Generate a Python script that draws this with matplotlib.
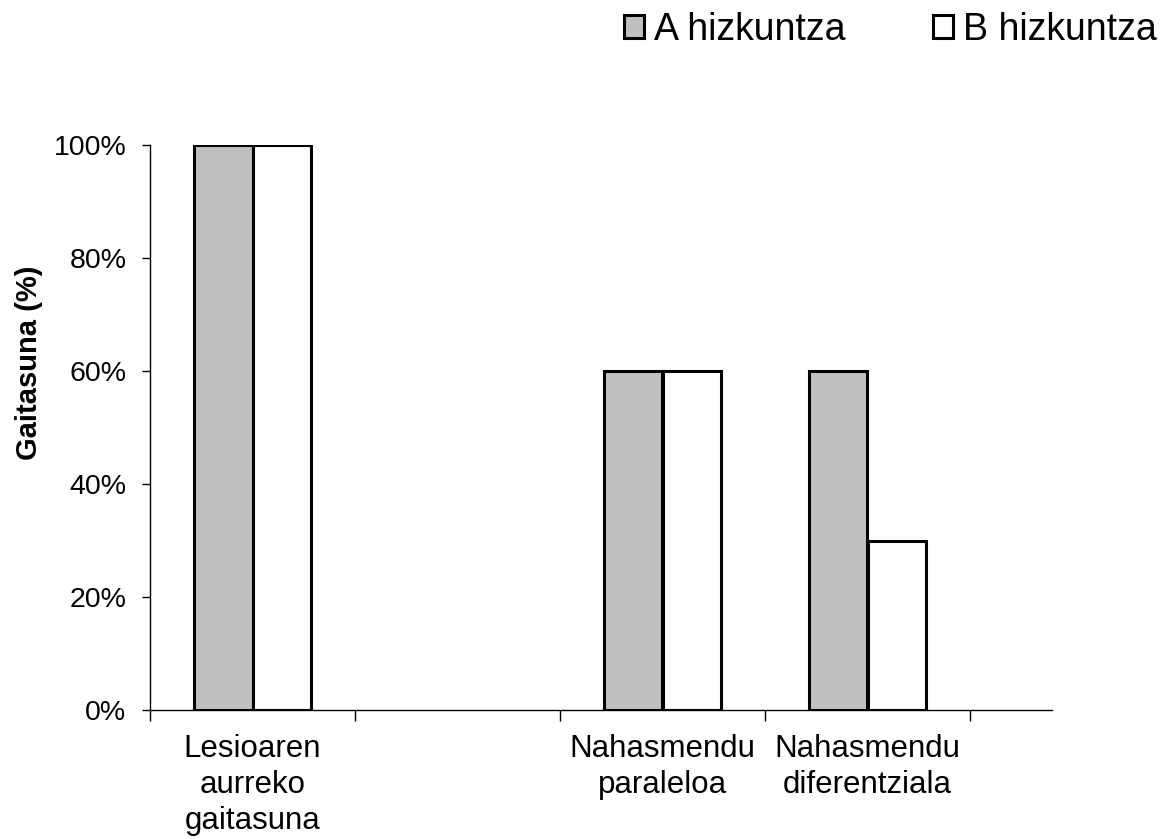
import matplotlib
matplotlib.use("Agg")
import matplotlib.pyplot as plt
from matplotlib.patches import Patch
import numpy as np

plt.rcParams['font.family'] = ['Liberation Sans', 'DejaVu Sans']

categories = ["Lesioaren\naurreko\ngaitasuna", "", "Nahasmendu\nparaleloa", "Nahasmendu\ndiferentziala"]
series_names = ["A hizkuntza", "B hizkuntza"]
values_a = [1.0, np.nan, 0.6, 0.6]
values_b = [1.0, np.nan, 0.6, 0.3]
colors = ["#c0c0c0", "#ffffff"]

fig = plt.figure(figsize=(11.62, 8.39), dpi=100)
ax = fig.add_axes([150 / 1162, 1 - 710 / 839, 902 / 1162, 565 / 839])

centers = np.arange(len(categories)) + 0.5
w = 0.283
for i, (vals, col) in enumerate([(values_a, colors[0]), (values_b, colors[1])]):
    offs = (i - 0.5) * w
    for c, v in zip(centers, vals):
        if np.isnan(v):
            continue
        ax.bar(c + offs, v, width=w, color=col, edgecolor="black", linewidth=2.2, zorder=3)

ax.set_xlim(0, 4.4)
ax.set_ylim(0, 1.0)
ax.set_yticks(np.arange(0, 1.01, 0.2))
ax.set_yticklabels(["{:.0f}%".format(v * 100) for v in np.arange(0, 1.01, 0.2)])
ax.tick_params(axis='y', direction='out', length=6, width=1, pad=11, labelsize=20.5)

ax.set_xticks(np.arange(0, 5))
ax.set_xticklabels([])
ax.tick_params(axis='x', which='major', direction='out', length=8, width=1)
ax.set_xticks(centers, minor=True)
ax.set_xticklabels(categories, minor=True, fontsize=22.5, linespacing=1.28)
ax.tick_params(axis='x', which='minor', length=0, pad=17)

for s in ["top", "right"]:
    ax.spines[s].set_visible(False)
ax.spines["left"].set_linewidth(1)
ax.spines["bottom"].set_linewidth(1)

ax.set_ylabel("Gaitasuna (%)", fontsize=21, fontweight="bold")
ax.yaxis.set_label_coords(-0.119, 0.614)

handles = [Patch(facecolor=colors[0], edgecolor="black", linewidth=2.2, label=series_names[0]),
           Patch(facecolor=colors[1], edgecolor="black", linewidth=2.2, label=series_names[1])]
fig.legend(handles=handles, loc="upper right", bbox_to_anchor=(1157 / 1162, 1 - 12 / 839), ncol=2,
           frameon=False, borderpad=0, borderaxespad=0,
           fontsize=27, handlelength=0.53, handleheight=0.55, handletextpad=0.27, columnspacing=2.35)

fig.savefig("out.png", dpi=100)
